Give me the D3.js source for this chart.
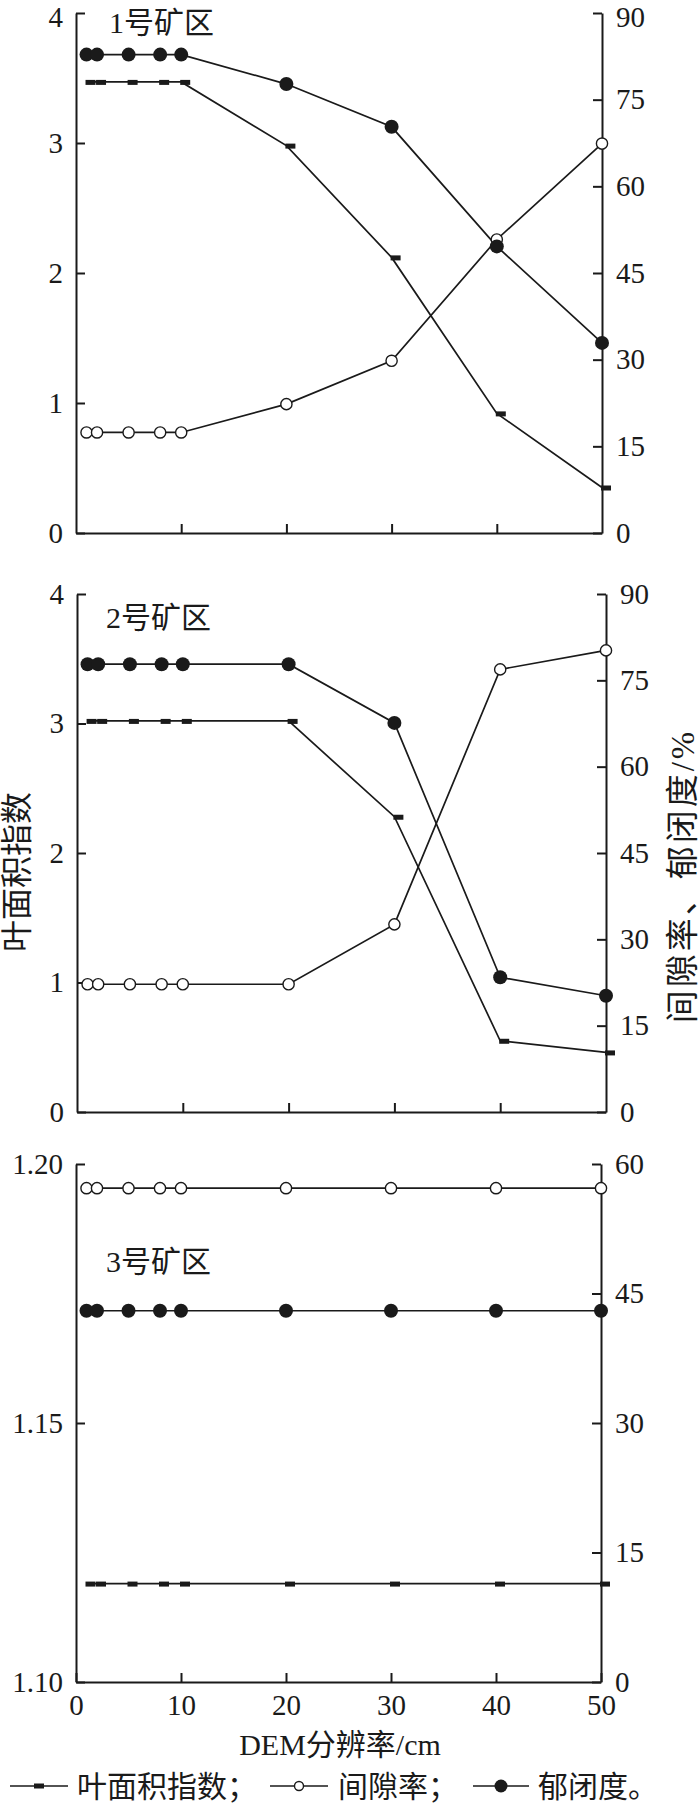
<!DOCTYPE html>
<html>
<head>
<meta charset="utf-8">
<script src="https://cdn.jsdelivr.net/npm/d3@7/dist/d3.min.js"></script>
<style>
body { margin: 0; background: #fff; }
text { font-family: "Liberation Serif", "Noto Sans CJK SC", serif; fill: #1a1a1a; }
</style>
</head>
<body>
<script>
// DEM resolution (cm) on the x axis
var resolution = [1, 2, 5, 8, 10, 20, 30, 40, 50];
var mineNames = ["1号矿区", "2号矿区", "3号矿区"];

// leaf area index (left axis)
var lai1 = [3.47, 3.47, 3.47, 3.47, 3.47, 2.98, 2.12, 0.92, 0.35];
var lai2 = [3.02, 3.02, 3.02, 3.02, 3.02, 3.02, 2.28, 0.55, 0.46];
var lai3 = [1.119, 1.119, 1.119, 1.119, 1.119, 1.119, 1.119, 1.119, 1.119];

// gap fraction, % (right axis)
var gap1 = [17.4, 17.4, 17.4, 17.4, 17.4, 22.3, 29.8, 50.8, 67.4];
var gap2 = [22.2, 22.2, 22.2, 22.2, 22.2, 22.2, 32.6, 76.9, 80.2];
var gap3 = [57.2, 57.2, 57.2, 57.2, 57.2, 57.2, 57.2, 57.2, 57.2];

// canopy closure, % (right axis)
var closure1 = [82.8, 82.8, 82.8, 82.8, 82.8, 77.7, 70.3, 49.6, 32.9];
var closure2 = [77.8, 77.8, 77.8, 77.8, 77.8, 77.8, 67.6, 23.4, 20.2];
var closure3 = [43.0, 43.0, 43.0, 43.0, 43.0, 43.0, 43.0, 43.0, 43.0];

// tick labels
var laiTicks = [0, 1, 2, 3, 4];
var laiTicks3 = [1.10, 1.15, 1.20];
var pctTicks = [0, 15, 30, 45, 60, 75, 90];
var pctTicks3 = [0, 15, 30, 45, 60];
var xTicks = [0, 10, 20, 30, 40, 50];

var width = 700, height = 1803;
var svg = d3.select("body").append("svg")
	.attr("width", width)
	.attr("height", height);

// one entry per mine panel
var panels = [
	{name: mineNames[0], lai: lai1, gap: gap1, closure: closure1,
	 laiDomain: [0, 4], laiTicks: laiTicks, laiFormat: d3.format("d"),
	 pctDomain: [0, 90], pctTicks: pctTicks,
	 left: 76, right: 602, top: 13, bottom: 533, labelX: 109, labelY: 22, xLabels: false},
	{name: mineNames[1], lai: lai2, gap: gap2, closure: closure2,
	 laiDomain: [0, 4], laiTicks: laiTicks, laiFormat: d3.format("d"),
	 pctDomain: [0, 90], pctTicks: pctTicks,
	 left: 77, right: 606, top: 594, bottom: 1112, labelX: 106, labelY: 617, xLabels: false},
	{name: mineNames[2], lai: lai3, gap: gap3, closure: closure3,
	 laiDomain: [1.10, 1.20], laiTicks: laiTicks3, laiFormat: d3.format(".2f"),
	 pctDomain: [0, 60], pctTicks: pctTicks3,
	 left: 76, right: 601, top: 1164, bottom: 1682, labelX: 106, labelY: 1261, xLabels: true}
];

panels.forEach(function(p){ drawPanel(p); });

function drawPanel(p){
	var x = d3.scaleLinear().domain([0, 50]).range([p.left, p.right]);
	var yL = d3.scaleLinear().domain(p.laiDomain).range([p.bottom, p.top]);
	var yR = d3.scaleLinear().domain(p.pctDomain).range([p.bottom, p.top]);

	var g = svg.append("g").attr("class", "panel");

	// left axis, ticks pointing inside
	var axL = g.append("g")
		.attr("transform", "translate(" + p.left + ",0)")
		.call(d3.axisLeft(yL).tickValues(p.laiTicks).tickFormat(p.laiFormat)
			.tickSize(-9).tickSizeOuter(0).tickPadding(13));
	// right axis
	var axR = g.append("g")
		.attr("transform", "translate(" + p.right + ",0)")
		.call(d3.axisRight(yR).tickValues(p.pctTicks)
			.tickSize(-9).tickSizeOuter(0).tickPadding(14));
	// bottom axis, labels only on the last panel
	var axB = g.append("g")
		.attr("transform", "translate(0," + p.bottom + ")")
		.call(d3.axisBottom(x).tickValues(p.xLabels ? xTicks : [10, 20, 30, 40])
			.tickFormat(p.xLabels ? d3.format("d") : "")
			.tickSize(-9).tickSizeOuter(0).tickPadding(12));

	[axL, axR, axB].forEach(function(a){
		a.attr("font-family", null).attr("font-size", 29);
		a.selectAll("path, line").attr("stroke", "#1a1a1a").attr("stroke-width", 2);
	});

	// keep the top labels inside the page
	[axL, axR].forEach(function(a){
		a.selectAll(".tick text").filter(function(){
			var t = d3.select(this.parentNode).attr("transform");
			return +t.split(",")[1].replace(")", "") < 20;
		}).attr("y", 4);
	});

	// mine label
	g.append("text")
		.attr("x", p.labelX)
		.attr("y", p.labelY)
		.attr("dominant-baseline", "central")
		.attr("font-size", 30)
		.text(p.name);

	var lineL = d3.line()
		.x(function(d, i){ return x(resolution[i]); })
		.y(function(d){ return yL(d); });
	var lineR = d3.line()
		.x(function(d, i){ return x(resolution[i]); })
		.y(function(d){ return yR(d); });

	// lines
	[[p.lai, lineL], [p.gap, lineR], [p.closure, lineR]].forEach(function(s){
		g.append("path")
			.attr("d", s[1](s[0]))
			.attr("fill", "none")
			.attr("stroke", "#1a1a1a")
			.attr("stroke-width", 1.7);
	});

	// leaf area index: short dash markers
	g.selectAll(".lai").data(p.lai).enter().append("rect")
		.attr("class", "lai")
		.attr("x", function(d, i){ return x(resolution[i]) - 1; })
		.attr("y", function(d){ return yL(d) - 2; })
		.attr("width", 10)
		.attr("height", 5)
		.attr("fill", "#1a1a1a");

	// gap fraction: open circles
	g.selectAll(".gap").data(p.gap).enter().append("circle")
		.attr("class", "gap")
		.attr("cx", function(d, i){ return x(resolution[i]); })
		.attr("cy", function(d){ return yR(d); })
		.attr("r", 5.6)
		.attr("fill", "#fff")
		.attr("stroke", "#1a1a1a")
		.attr("stroke-width", 1.4);

	// canopy closure: filled circles
	g.selectAll(".closure").data(p.closure).enter().append("circle")
		.attr("class", "closure")
		.attr("cx", function(d, i){ return x(resolution[i]); })
		.attr("cy", function(d){ return yR(d); })
		.attr("r", 7)
		.attr("fill", "#1a1a1a");
}

// axis titles
svg.append("text")
	.attr("transform", "translate(17,872) rotate(-90)")
	.attr("text-anchor", "middle")
	.attr("dominant-baseline", "central")
	.attr("font-size", 32)
	.text("叶面积指数");

svg.append("text")
	.attr("transform", "translate(683,876) rotate(-90)")
	.attr("text-anchor", "middle")
	.attr("dominant-baseline", "central")
	.attr("font-size", 33)
	.attr("letter-spacing", 3)
	.text("间隙率、郁闭度/%");

svg.append("text")
	.attr("x", 340)
	.attr("y", 1744)
	.attr("text-anchor", "middle")
	.attr("dominant-baseline", "central")
	.attr("font-size", 30)
	.text("DEM分辨率/cm");

// legend
var legendY = 1786;
var legendItems = [
	{label: "叶面积指数；", x0: 10, x1: 68, mark: "dash", tx: 77},
	{label: "间隙率；", x0: 270, x1: 328, mark: "open", tx: 338},
	{label: "郁闭度。", x0: 473, x1: 529, mark: "filled", tx: 538}
];
var legend = svg.selectAll(".legend")
	.data(legendItems)
	.enter().append("g")
	.attr("class", "legend");

legend.append("line")
	.attr("x1", function(d){ return d.x0; })
	.attr("x2", function(d){ return d.x1; })
	.attr("y1", legendY)
	.attr("y2", legendY)
	.attr("stroke", "#1a1a1a")
	.attr("stroke-width", 1.7);

legend.each(function(d){
	var mid = (d.x0 + d.x1) / 2;
	var el = d3.select(this);
	if (d.mark == "dash") {
		el.append("rect").attr("x", mid - 5).attr("y", legendY - 2.5)
			.attr("width", 10).attr("height", 5).attr("fill", "#1a1a1a");
	} else if (d.mark == "open") {
		el.append("circle").attr("cx", mid).attr("cy", legendY).attr("r", 4.5)
			.attr("fill", "#fff").attr("stroke", "#1a1a1a").attr("stroke-width", 1.4);
	} else {
		el.append("circle").attr("cx", mid).attr("cy", legendY).attr("r", 6.5)
			.attr("fill", "#1a1a1a");
	}
});

legend.append("text")
	.attr("x", function(d){ return d.tx; })
	.attr("y", legendY)
	.attr("dominant-baseline", "central")
	.attr("font-size", 30)
	.text(function(d){ return d.label; });
</script>
</body>
</html>
